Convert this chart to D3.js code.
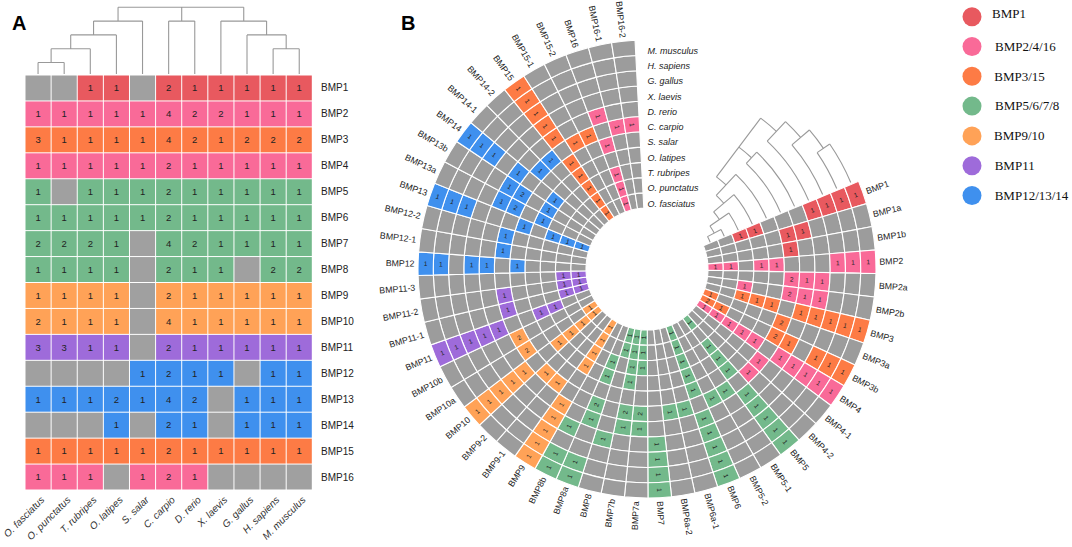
<!DOCTYPE html>
<html><head><meta charset="utf-8">
<script src="https://cdn.jsdelivr.net/npm/d3@7/dist/d3.min.js"></script>
<style>html,body{margin:0;padding:0;background:#fff}svg{display:block}</style>
</head><body><svg id="c" width="1072" height="547"></svg>
<script>
// ---------- data ----------
const species = ["O. fasciatus","O. punctatus","T. rubripes","O. latipes","S. salar","C. carpio","D. rerio","X. laevis","G. gallus","H. sapiens","M. musculus"];
const familyNames = ["BMP1","BMP2/4/16","BMP3/15","BMP5/6/7/8","BMP9/10","BMP11","BMP12/13/14"];
const familyColors = ["#E8595F","#F96A98","#FD7B45","#73B98B","#FFA257","#9E6BDA","#3F90EE"];
const familyOfGene = {1:0,2:1,4:1,16:1,3:2,15:2,5:3,6:3,7:3,8:3,9:4,10:4,11:5,12:6,13:6,14:6};
const heatGenes = ["BMP1","BMP2","BMP3","BMP4","BMP5","BMP6","BMP7","BMP8","BMP9","BMP10","BMP11","BMP12","BMP13","BMP14","BMP15","BMP16"];
const heatCounts = [
 [0,0,1,1,0,2,1,1,1,1,1],[1,1,1,1,1,4,2,2,1,1,1],[3,1,1,1,1,4,2,1,2,2,2],[1,1,1,1,1,2,1,1,1,1,1],
 [1,0,1,1,1,2,1,1,1,1,1],[1,1,1,1,1,2,1,1,1,1,1],[2,2,2,1,0,4,2,1,1,1,1],[1,1,1,1,0,2,1,1,0,2,2],
 [1,1,1,1,0,2,1,1,1,1,1],[2,1,1,1,0,4,1,1,1,1,1],[3,3,1,1,0,2,1,1,1,1,1],[0,0,0,0,1,2,1,1,0,1,1],
 [1,1,1,2,1,4,2,0,1,1,1],[0,0,0,1,0,2,1,0,1,1,1],[1,1,1,1,1,2,1,1,1,1,1],[1,1,1,0,1,2,1,0,0,0,0]];
const ringGenes = ["BMP1","BMP1a","BMP1b","BMP2","BMP2a","BMP2b","BMP3","BMP3a","BMP3b","BMP4","BMP4-1","BMP4-2","BMP5","BMP5-1","BMP5-2","BMP6","BMP6a-1","BMP6a-2","BMP7","BMP7a","BMP7b","BMP8","BMP8a","BMP8b","BMP9","BMP9-1","BMP9-2","BMP10","BMP10a","BMP10b","BMP11","BMP11-1","BMP11-2","BMP11-3","BMP12","BMP12-1","BMP12-2","BMP13","BMP13a","BMP13b","BMP14","BMP14-1","BMP14-2","BMP15","BMP15-1","BMP15-2","BMP16","BMP16-1","BMP16-2"];
// one string per gene, one digit per species (inner ring first)
const ringCounts = ["00110001111","00000110000","00000100000","11011000111","00000211000","00100211000","00111011111","10000200000","21000210111","11111011111","00000100000","00000100000","10111011111","00000100000","00000100000","11111011111","00000100000","00000100000","00000001111","11100210000","11110210000","11000001000","00110210011","00000001011","11110011111","00000100000","00000100000","11110011111","10000200000","00000200000","00110011111","11000100000","11000100000","11000000000","00001011011","00000100000","00000100000","11101000111","00010210000","00010210000","00010010111","00000100000","00000100000","11111011111","00000100000","00000100000","11101010000","00000100000","00000100000"];
// species tree: leaves are species indices, h is the merge height
const speciesTree = {h:4.83,children:[
  {h:3.83,children:[{h:2.83,children:[{h:1.83,children:[{h:0.83,children:[0,1]},2]},3]},4]},
  {h:3.83,children:[5,6]},
  {h:3.83,children:[7,{h:2.83,children:[8,{h:1.83,children:[9,10]}]}]}
]};

// ---------- shared ----------
const svg = d3.select("#c");
const sans = "'Liberation Sans',Arial,sans-serif";
const GRAY_A = "#A0A0A0", GRAY_B = "#9C9C9C", TREE = "#999999";
const familyIndex = g => familyOfGene[parseInt(g.replace("BMP",""),10)];
function buildTree(){
  return d3.hierarchy(speciesTree, d => typeof d === "number" ? null : d.children);
}
function letter(t,x){svg.append("text").attr("x",x).attr("y",29.5).attr("font-family",sans).attr("font-weight",700).attr("font-size",20).attr("fill","#000").text(t);}

// ---------- panel A ----------
const x = d3.scaleBand().domain(species).range([25,312.3]);
const y = d3.scaleBand().domain(heatGenes).range([75,490]);
const gA = svg.append("g");
heatGenes.forEach((g,ri)=>{
  const col = familyColors[familyIndex(g)];
  species.forEach((s,ci)=>{
    const v = heatCounts[ri][ci];
    gA.append("rect").attr("x",x(s)+.5).attr("y",y(g)+.5).attr("width",x.bandwidth()-1).attr("height",y.bandwidth()-1).attr("fill",v?col:GRAY_A);
    if(v) gA.append("text").attr("x",x(s)+x.bandwidth()/2).attr("y",y(g)+y.bandwidth()/2).attr("dy","0.35em").attr("text-anchor","middle").attr("font-family",sans).attr("font-size",9.5).attr("fill","#222").text(v);
  });
  gA.append("text").attr("x",321).attr("y",y(g)+y.bandwidth()/2).attr("dy","0.35em").attr("font-family",sans).attr("font-size",10).attr("fill","#222").text(g);
});
species.forEach(s=>{
  const px=x(s)+x.bandwidth()/2+3.5, py=497;
  gA.append("text").attr("transform",`translate(${px},${py}) rotate(-45)`).attr("text-anchor","end").attr("dy","0.5em").attr("font-family",sans).attr("font-style","italic").attr("font-size",10).attr("fill","#333").text(s);
});
const hY = d3.scaleLinear().domain([0,4.83]).range([74,7.3]);
(function(){
  const root = buildTree();
  const pos = n => {
    if(!n.children) return x(species[n.data])+x.bandwidth()/2;
    const p = n.children.map(pos); n.px = (p[0]+p[p.length-1])/2; return n.px;
  };
  pos(root);
  const px = n => n.children ? n.px : x(species[n.data])+x.bandwidth()/2;
  const hh = n => n.children ? n.data.h : 0;
  const path = d3.path();
  root.descendants().filter(n=>n.children).forEach(n=>{
    const ny = hY(hh(n));
    path.moveTo(px(n.children[0]),ny);
    path.lineTo(px(n.children[n.children.length-1]),ny);
    n.children.forEach(c=>{path.moveTo(px(c),ny);path.lineTo(px(c),hY(hh(c)));});
  });
  svg.append("path").attr("d",path.toString()).attr("fill","none").attr("stroke",TREE).attr("stroke-width",1.1);
})();
letter("A",12);

// ---------- panel B ----------
const cx=647, cy=269;
const deg = d3.scaleLinear().domain([0,360]).range([0,2*Math.PI]);
const ang = d3.scaleBand().domain(ringGenes).range([deg(67.5),deg(357)]);
const rad = d3.scaleBand().domain(species).range([61,229]);
const gB = svg.append("g").attr("transform",`translate(${cx},${cy})`);
const arc = d3.arc();
ringGenes.forEach((g,gi)=>{
  const col = familyColors[familyIndex(g)];
  const a0=ang(g), a1=a0+ang.bandwidth(), am=(a0+a1)/2;
  const amDeg = am*180/Math.PI;
  const flip = amDeg>180;
  const rot = flip ? amDeg+90 : amDeg-90;
  species.forEach((s,si)=>{
    const v = +ringCounts[gi][si];
    const r0=rad(s), r1=r0+rad.bandwidth(), rm=(r0+r1)/2;
    gB.append("path").attr("d",arc({innerRadius:r0,outerRadius:r1,startAngle:a0,endAngle:a1})).attr("fill",v?col:GRAY_B).attr("stroke","#fff").attr("stroke-width",1.1);
    if(v){
      const tx=rm*Math.sin(am), ty=-rm*Math.cos(am);
      gB.append("text").attr("transform",`translate(${tx},${ty}) rotate(${rot})`).attr("text-anchor","middle").attr("dy","0.35em").attr("font-family",sans).attr("font-size",6.5).attr("fill","#222").text(v);
    }
  });
  const lr=232.5, lx=lr*Math.sin(am), ly=-lr*Math.cos(am);
  gB.append("text").attr("transform",`translate(${lx},${ly}) rotate(${rot})`).attr("text-anchor",flip?"end":"start").attr("dy","0.35em").attr("font-family",sans).attr("font-size",8.8).attr("fill","#222").text(g);
});
species.forEach(s=>{
  const r=rad(s)+rad.bandwidth()/2;
  svg.append("text").attr("x",647.5).attr("y",cy-r+3).attr("dy","0.35em").attr("font-family",sans).attr("font-style","italic").attr("font-size",9).attr("fill","#222").text(s);
});
const hA = d3.scaleLinear().domain([0,4.83]).range([deg(67),deg(37)]);
(function(){
  const root = buildTree();
  const rp = n => {
    if(!n.children) return rad(species[n.data])+rad.bandwidth()/2;
    const p = n.children.map(rp); n.rr=(p[0]+p[p.length-1])/2; return n.rr;
  };
  rp(root);
  const rr = n => n.children ? n.rr : rad(species[n.data])+rad.bandwidth()/2;
  const hh = n => n.children ? n.data.h : 0;
  const gT = gB.append("g").attr("fill","none").attr("stroke",TREE).attr("stroke-width",1.1);
  root.descendants().filter(n=>n.children).forEach(n=>{
    const a = hA(hh(n));
    const ra=rr(n.children[0]), rb=rr(n.children[n.children.length-1]);
    gT.append("line").attr("x1",ra*Math.sin(a)).attr("y1",-ra*Math.cos(a)).attr("x2",rb*Math.sin(a)).attr("y2",-rb*Math.cos(a));
    n.children.forEach(c=>{
      const r=rr(c), b=hA(hh(c));
      const p=d3.path(); p.arc(0,0,r,a-Math.PI/2,b-Math.PI/2,false);
      gT.append("path").attr("d",p.toString());
    });
  });
})();
letter("B",401);

// ---------- legend ----------
const legendY = d3.scalePoint().domain(familyNames).range([16.7,195.5]);
const legendTextX = [992,995,994.3,995,994,994.7,994.7];
familyNames.forEach((n,i)=>{
  svg.append("circle").attr("cx",972).attr("cy",legendY(n)).attr("r",9.5).attr("fill",familyColors[i]);
  svg.append("text").attr("x",legendTextX[i]).attr("y",legendY(n)-(i==0?3:0)).attr("dy","0.33em").attr("font-family","'Liberation Serif','Times New Roman',serif").attr("font-size",13).attr("fill","#111").text(n);
});
</script></body></html>
